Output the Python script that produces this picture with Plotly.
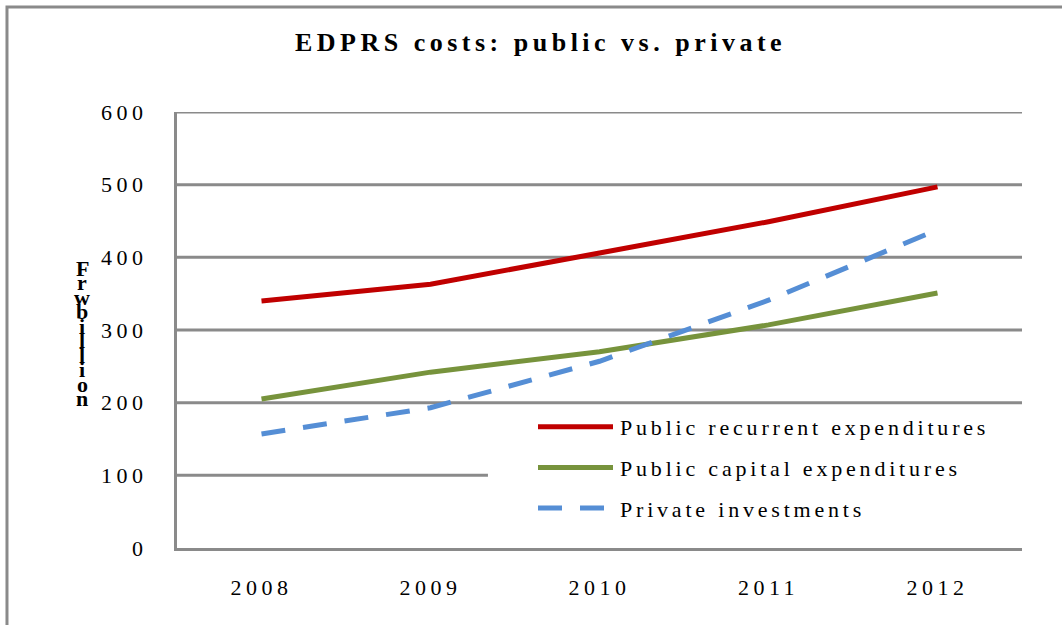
import plotly.graph_objects as go

years = ["2008", "2009", "2010", "2011", "2012"]
public_recurrent = [340, 363, 406, 449, 497]
public_capital = [205, 242, 270, 307, 351]
private_invest = [157, 193, 257, 341, 438]

y_ticks = [0, 100, 200, 300, 400, 500, 600]
y_title_letters = list("Frw billion")

GRID = "#8a8a8a"
SERIF = "Liberation Serif"
LEGEND_LEFT = 0.368  # x-domain fraction where the legend panel starts

fig = go.Figure()
fig.add_trace(go.Scatter(x=years, y=public_recurrent, mode="lines",
                         name="Public recurrent expenditures", legendgroup="a",
                         line=dict(color="#C00000", width=5)))
fig.add_trace(go.Scatter(x=years, y=public_capital, mode="lines",
                         name="Public capital expenditures", legendgroup="b",
                         line=dict(color="#77933C", width=5)))
fig.add_trace(go.Scatter(x=years, y=private_invest, mode="lines",
                         name="Private investments", legendgroup="c",
                         line=dict(color="#558ED5", width=5, dash="24px,18px")))

# horizontal gridlines; the one that passes under the legend stops at its panel
for v in y_ticks[1:]:
    right = LEGEND_LEFT if v == 100 else 1.0
    fig.add_shape(type="line", xref="x domain", yref="y", x0=0, x1=right,
                  y0=v, y1=v, line=dict(color=GRID, width=3), layer="below")

# outer chart frame
fig.add_shape(type="rect", xref="paper", yref="paper",
              x0=-0.2012, x1=1.2, y0=-0.4, y1=1.2408,
              line=dict(color=GRID, width=3), fillcolor="rgba(0,0,0,0)",
              layer="below")

# stacked y-axis caption
letters = [c for c in y_title_letters if c != " "]
for i, ch in enumerate(letters):
    py = 268 + i * 14.5
    fig.add_annotation(text=ch, xref="paper", yref="paper",
                       x=(82 - 177) / 845, y=(548 - py) / 436,
                       showarrow=False, xanchor="center", yanchor="middle",
                       font=dict(family=SERIF, size=22, color="black",
                                 weight="bold"))

fig.update_layout(
    width=1062, height=625,
    margin=dict(l=177, r=40, t=112, b=77),
    paper_bgcolor="white", plot_bgcolor="white",
    title=dict(text="EDPRS costs: public vs. private",
               font=dict(family=SERIF, size=26, color="black", weight="bold"),
               xref="container", x=0.509, yref="container", y=1 - 42 / 625,
               xanchor="center", yanchor="middle"),
    font=dict(family=SERIF, size=22, color="black"),
    showlegend=True,
    legend=dict(x=(580 - 177) / 845, y=(548 - 406) / 436,
                xanchor="left", yanchor="top",
                bgcolor="rgba(0,0,0,0)", tracegroupgap=9,
                font=dict(family=SERIF, size=22, color="black")),
    xaxis=dict(type="category", range=[-0.5, 4.5], showgrid=False,
               showline=True, linecolor=GRID, linewidth=3, zeroline=False,
               ticks="", ticklabelstandoff=18,
               tickfont=dict(family=SERIF, size=22, color="black")),
    yaxis=dict(range=[0, 600], tickvals=y_ticks, showgrid=False,
               zeroline=False, showline=True, linecolor=GRID, linewidth=3,
               ticks="", ticklabelstandoff=22,
               tickfont=dict(family=SERIF, size=22, color="black")),
)

# widen the letter spacing of the text, lengthen the legend line samples,
# and let the legend text run past the box width computed beforehand
spacing_js = """
var gd = document.getElementById('{plot_id}');
gd.querySelectorAll('.xtick text, .ytick text').forEach(function(t){ t.style.letterSpacing = '4.5px'; });
gd.querySelectorAll('.legendtext').forEach(function(t){ t.style.letterSpacing = '3.8px'; });
gd.querySelectorAll('.gtitle').forEach(function(t){ t.style.letterSpacing = '4.5px'; });
gd.querySelectorAll('.legend .legendlines path').forEach(function(p){ p.setAttribute('d', 'M-42,0h75'); });
gd.querySelectorAll('.legend [clip-path]').forEach(function(e){ e.removeAttribute('clip-path'); });
gd.querySelectorAll('.legend').forEach(function(e){ e.removeAttribute('clip-path'); });
"""

fig.write_html("out.html", post_script=spacing_js)
